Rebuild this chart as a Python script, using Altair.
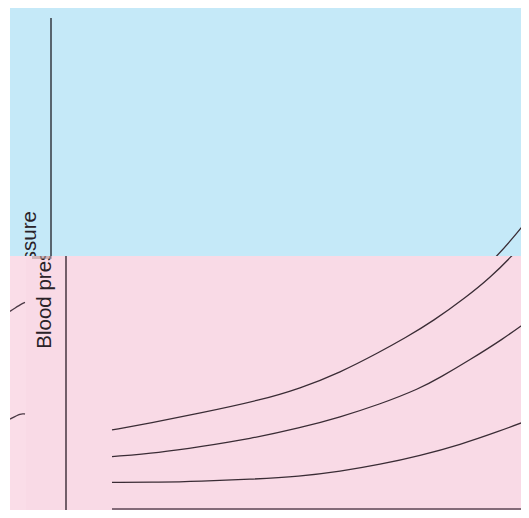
import altair as alt
import pandas as pd

# Values (x: from left edge of the panels, y: from bottom)
line1_x = [102, 140, 190, 250, 290, 330, 370, 395, 423, 457, 480, 502, 518, 534]
line1_y = [86, 93, 103, 116, 128, 144, 165, 179, 196, 221, 240, 262, 280, 300]
line2_x = [102, 150, 190, 240, 290, 330, 370, 410, 430, 460, 493, 519]
line2_y = [59, 63, 69, 77, 88, 99, 112, 128, 139, 157, 178, 197]
line3_x = [102, 150, 190, 240, 290, 330, 370, 410, 450, 490, 519]
line3_y = [33, 33, 34, 36, 39, 44, 51, 60, 71, 85, 96]
line4_x = [102, 519]
line4_y = [6, 6]
fragA_x = [0, 12, 15]
fragA_y = [206, 214, 215]
fragB_x = [0, 11, 15]
fragB_y = [97, 103, 102]
fragC_x = [0, 15]
fragC_y = [2, 2]

axis_x = [56]
axis_y0 = [0]
axis_y1 = [500]

label_text = ["Blood pressure"]
label_x = [35]
label_y = [238]

rows = []
for name, xs, ys in [("c1", line1_x, line1_y), ("c2", line2_x, line2_y),
                     ("c3", line3_x, line3_y), ("c4", line4_x, line4_y),
                     ("fA", fragA_x, fragA_y), ("fB", fragB_x, fragB_y),
                     ("fC", fragC_x, fragC_y)]:
    for i, (a, b) in enumerate(zip(xs, ys)):
        rows.append({"series": name, "x": a, "y": b, "i": i})
curves = pd.DataFrame(rows)
axis_df = pd.DataFrame({"x": axis_x, "y": axis_y0, "y2": axis_y1})
label_df = pd.DataFrame({"t": label_text, "x": label_x, "y": label_y})
strip_df = pd.DataFrame({"x": [0], "x2": [16], "y": [0], "y2": [262]})
patch_df = pd.DataFrame({"x": [22], "x2": [42], "y": [259], "y2": [262]})

series_names = ["c1", "c2", "c3", "c4", "fA", "fB", "fC"]
series_colors = ["#3a2c35", "#3a2c35", "#3a2c35", "#5c4654", "#4a3844", "#4a3844", "#5c4654"]
series_widths = [1.3, 1.3, 1.3, 1.8, 1.3, 1.3, 1.8]

W = 511


def panel(xdom, ydom, h, fill, rule_color, rule_width, pink):
    xs = alt.Scale(domain=xdom, nice=False, zero=False)
    ys = alt.Scale(domain=ydom, nice=False, zero=False)
    layers = []
    if pink:
        layers.append(alt.Chart(strip_df).mark_rect(clip=True, color="#fadde8").encode(
            x=alt.X("x:Q", scale=xs, axis=None), x2="x2:Q",
            y=alt.Y("y:Q", scale=ys, axis=None), y2="y2:Q"))
    layers.append(alt.Chart(curves).mark_line(clip=True, interpolate="basis").encode(
        x=alt.X("x:Q", scale=xs, axis=None),
        y=alt.Y("y:Q", scale=ys, axis=None),
        detail="series:N",
        order="i:Q",
        color=alt.Color("series:N", scale=alt.Scale(domain=series_names, range=series_colors), legend=None),
        strokeWidth=alt.StrokeWidth("series:N", scale=alt.Scale(domain=series_names, range=series_widths), legend=None),
    ))
    layers.append(alt.Chart(axis_df).mark_rule(clip=True, color=rule_color, strokeWidth=rule_width).encode(
        x=alt.X("x:Q", scale=xs, axis=None),
        y=alt.Y("y:Q", scale=ys, axis=None), y2="y2:Q"))
    layers.append(alt.Chart(label_df).mark_text(
        clip=True, angle=270, align="center", baseline="middle",
        font="Liberation Sans", fontSize=20.5, color="#2a2228").encode(
        x=alt.X("x:Q", scale=xs, axis=None),
        y=alt.Y("y:Q", scale=ys, axis=None), text="t:N"))
    if pink:
        layers.append(alt.Chart(patch_df).mark_rect(clip=True, color="#b89a9a", opacity=0.6).encode(
            x=alt.X("x:Q", scale=xs, axis=None), x2="x2:Q",
            y=alt.Y("y:Q", scale=ys, axis=None), y2="y2:Q"))
    return alt.layer(*layers).properties(
        width=W, height=h, view=alt.ViewBackground(fill=fill, strokeWidth=0))


blue = panel([15, 15 + W], [262, 510], 248, "#c5e9f8", "#58646e", 2, False)
pink = panel([0, W], [5, 262], 254, "#f9dae6", "#3a2a34", 1.4, True)

chart = alt.vconcat(blue, pink, spacing=0, bounds="flush").properties(
    padding={"left": 2, "top": 0, "right": 0, "bottom": 0}
).configure_view(strokeWidth=0).configure(background="white")

chart.save("out.html", embed_options={"renderer": "svg", "actions": False})
